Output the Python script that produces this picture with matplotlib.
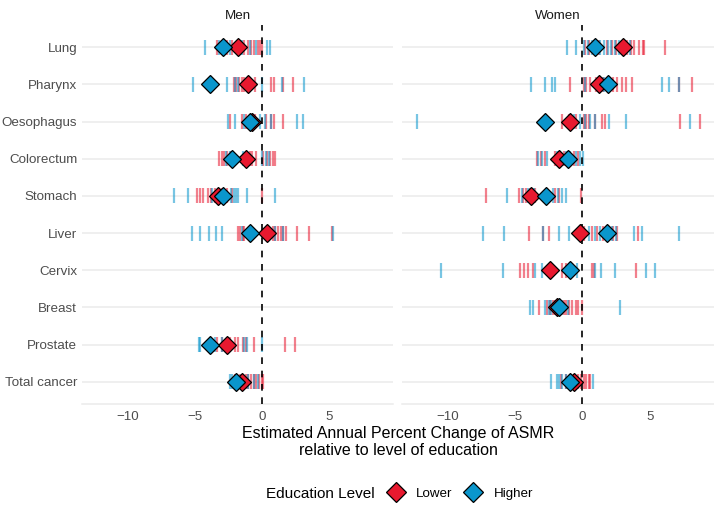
import numpy as np
import matplotlib.pyplot as plt
from matplotlib.lines import Line2D

plt.rcParams['font.family'] = ['Liberation Sans', 'DejaVu Sans']

cancers = ['Lung', 'Pharynx', 'Oesophagus', 'Colorectum', 'Stomach',
           'Liver', 'Cervix', 'Breast', 'Prostate', 'Total cancer']

# country-level estimates (thin ticks)
men_lower = {
    'Lung': [-3.3, -3.0, -2.6, -2.2, -1.6, -1.3, -1.0, -0.8, -0.6, -0.3, -0.1, 0.0],
    'Pharynx': [-2.1, -1.9, -1.7, -1.5, -1.3, -1.1, -0.5, 0.7, 0.9, 1.6, 2.3],
    'Oesophagus': [-2.4, -1.5, -1.2, -0.9, -0.5, 0.3, 0.7, 0.9, 1.6],
    'Colorectum': [-3.2, -3.0, -2.8, -2.6, -2.3, -0.9, -0.7, -0.4, 0.1, 0.4, 0.6, 0.8, 0.95],
    'Stomach': [-4.8, -4.6, -4.4, -4.0, -3.8, -3.5, -3.0, -2.6, -2.2, 0.05],
    'Liver': [-1.8, -1.6, -1.4, -1.3, 0.8, 1.0, 1.2, 1.4, 1.6, 1.8, 2.6, 3.5, 5.25],
    'Prostate': [-3.3, -3.0, -2.6, -2.4, -2.0, -1.75, -1.4, -1.2, -0.6, 1.7, 2.5],
    'Total cancer': [-2.0, -1.6, -1.4, -1.2, -1.0, -0.8, -0.6, -0.4, -0.2, 0.0, 0.1],
}
men_higher = {
    'Lung': [-4.2, -3.2, -2.4, -1.5, -0.9, -0.4, 0.35, 0.6],
    'Pharynx': [-5.1, -2.6, -2.0, -1.8, 0.05, 1.5, 3.17],
    'Oesophagus': [-2.5, -2.0, -1.3, -0.1, 0.2, 0.7, 2.6, 3.1],
    'Colorectum': [-2.7, -2.4, -1.4, -1.2, 0.0, 0.3, 0.5],
    'Stomach': [-6.5, -5.5, -3.7, -2.3, -2.1, -1.9, -1.8, -1.1, 0.97],
    'Liver': [-5.2, -4.6, -3.9, -3.4, -3.0, -1.5, 1.0, 1.6, 5.3],
    'Prostate': [-4.7, -4.6, -3.5, -3.0, -1.3, -1.1, 0.0],
    'Total cancer': [-2.4, -2.2, -1.9, -1.0, -0.6, -0.3],
}
women_lower = {
    'Lung': [0.2, 0.5, 1.2, 1.8, 2.2, 2.5, 2.9, 3.3, 3.6, 3.8, 4.2, 4.5, 4.6, 6.15],
    'Pharynx': [-0.9, 0.1, 0.3, 0.6, 1.0, 1.5, 2.3, 2.6, 2.9, 3.2, 3.7, 7.2, 8.1],
    'Oesophagus': [-1.5, -1.0, -0.5, 0.1, 0.3, 0.5, 0.9, 1.45, 1.7, 7.25, 8.75],
    'Colorectum': [-3.4, -3.1, -2.8, -2.0, -1.7, -1.4, -1.0, -0.6, -0.3],
    'Stomach': [-7.15, -4.7, -4.4, -4.2, -3.9, -3.5, -2.0, -1.7, -0.1],
    'Liver': [-3.95, -2.95, -2.5, 0.1, 0.7, 1.1, 1.5, 2.0, 2.3, 2.6, 4.1],
    'Cervix': [-4.6, -4.3, -4.0, -3.7, -1.5, -1.2, -0.8, 0.7, 0.85, 4.0],
    'Breast': [-3.2, -2.6, -2.4, -2.2, -2.0, -1.6, -1.4, -1.2, -1.0, -0.8, -0.5, -0.3, 0.0],
    'Total cancer': [-1.6, -1.2, -0.9, -0.6, -0.3, -0.1, 0.1, 0.3, 0.5, 0.6],
}
women_higher = {
    'Lung': [-1.15, -0.5, 0.15, 0.4, 0.7, 1.3, 1.6, 1.9, 2.1, 2.4, 2.7, 3.5],
    'Pharynx': [-3.8, -2.75, -2.25, -2.05, 0.2, 1.6, 5.9, 6.4, 7.15],
    'Oesophagus': [-12.3, -0.6, -0.2, 0.2, 0.6, 0.95, 1.95, 3.2, 8.0],
    'Colorectum': [-3.3, -3.0, -2.6, -1.9, -1.2, -0.9, -0.5, -0.2, 0.05],
    'Stomach': [-5.6, -4.5, -4.0, -3.6, -2.6, -2.2, -1.8, -1.5, -1.2],
    'Liver': [-7.4, -5.85, -2.95, -1.7, -1.0, 0.5, 0.9, 1.3, 2.2, 2.5, 3.8, 4.4, 7.2],
    'Cervix': [-10.5, -5.9, -3.5, -3.0, -0.4, 0.95, 1.35, 2.4, 4.7, 5.35],
    'Breast': [-3.85, -3.7, -2.8, -2.5, -2.3, -1.5, -1.1, 2.8],
    'Total cancer': [-2.35, -1.9, -1.7, -1.5, -1.2, -0.9, -0.6, 0.75],
}

# pooled estimates (diamonds)
men_lower_pooled = {'Lung': -1.75, 'Pharynx': -1.0, 'Oesophagus': -0.7, 'Colorectum': -1.15,
                    'Stomach': -3.25, 'Liver': 0.4, 'Prostate': -2.6, 'Total cancer': -1.45}
men_higher_pooled = {'Lung': -2.9, 'Pharynx': -3.87, 'Oesophagus': -0.85, 'Colorectum': -2.2,
                     'Stomach': -2.87, 'Liver': -0.85, 'Prostate': -3.87, 'Total cancer': -1.9}
women_lower_pooled = {'Lung': 3.0, 'Pharynx': 1.2, 'Oesophagus': -0.9, 'Colorectum': -1.75,
                      'Stomach': -3.78, 'Liver': -0.2, 'Cervix': -2.37, 'Breast': -1.88,
                      'Total cancer': -0.65}
women_higher_pooled = {'Lung': 0.95, 'Pharynx': 1.9, 'Oesophagus': -2.75, 'Colorectum': -1.05,
                       'Stomach': -2.7, 'Liver': 1.83, 'Cervix': -0.95, 'Breast': -1.7,
                       'Total cancer': -0.9}

red = '#E8192F'
blue = '#0A96CC'

fig = plt.figure(figsize=(7.14, 5.05), dpi=100)
ax1 = fig.add_axes([82/714, 0.2, 311/714, 0.7505])
ax2 = fig.add_axes([402/714, 0.2, 312/714, 0.7505], sharex=ax1, sharey=ax1)

panels = [(ax1, 'Men', men_lower, men_higher, men_lower_pooled, men_higher_pooled),
          (ax2, 'Women', women_lower, women_higher, women_lower_pooled, women_higher_pooled)]

for ax, title, lo, hi, lo_p, hi_p in panels:
    for i, c in enumerate(cancers):
        ax.axhline(i, color='#EBEBEB', lw=1.1, zorder=0)
    for series, col in [(lo, red), (hi, blue)]:
        for c, vals in series.items():
            i = cancers.index(c)
            ax.vlines(vals, i - 0.2, i + 0.2, color=col, lw=1.6, alpha=0.55, zorder=2)
    ax.axvline(0, color='black', lw=1.2, ls=(0, (4, 4)), zorder=3)
    for pooled, col in [(lo_p, red), (hi_p, blue)]:
        xs = list(pooled.values())
        ys = [cancers.index(c) for c in pooled]
        ax.plot(xs, ys, 'D', ms=9.5, color=col, mec='black', mew=0.9, zorder=4)
    ax.set_title(title, fontsize=9.6, color='#1A1A1A', pad=4)
    for s in ['top', 'right', 'left']:
        ax.spines[s].set_visible(False)
    ax.spines['bottom'].set_color('#EBEBEB')
    ax.spines['bottom'].set_linewidth(1.1)
    ax.tick_params(length=0, labelsize=9.6, labelcolor='#4D4D4D')
    ax.tick_params(axis='x', pad=5)

ax1.set_xlim(-13.38, 9.76)
ax1.set_xticks([-10, -5, 0, 5])
ax1.set_xticklabels(['\u221210', '\u22125', '0', '5'])
ax1.set_ylim(9.6, -0.6)
ax1.set_yticks(range(len(cancers)))
ax1.set_yticklabels(cancers)
ax2.tick_params(labelleft=False)

fig.text(398/714, 1 - 442/505, 'Estimated Annual Percent Change of ASMR\nrelative to level of education',
         ha='center', va='center', fontsize=11.5, linespacing=1.15, color='black')

fig.text(266/714, 1 - 494/505, 'Education Level', ha='left', va='center', fontsize=11)
handles = [Line2D([], [], ls='none', marker='D', ms=10.5, color=red, mec='black', mew=0.9),
           Line2D([], [], ls='none', marker='D', ms=10.5, color=blue, mec='black', mew=0.9)]
fig.legend(handles, ['Lower', 'Higher'], loc='center left', bbox_to_anchor=(389/714, 1 - 494/505),
           ncol=2, frameon=False, fontsize=9.6, handlelength=1.0, handletextpad=1.05,
           columnspacing=1.05, borderaxespad=0, borderpad=0)

fig.savefig('out.png', dpi=100)
